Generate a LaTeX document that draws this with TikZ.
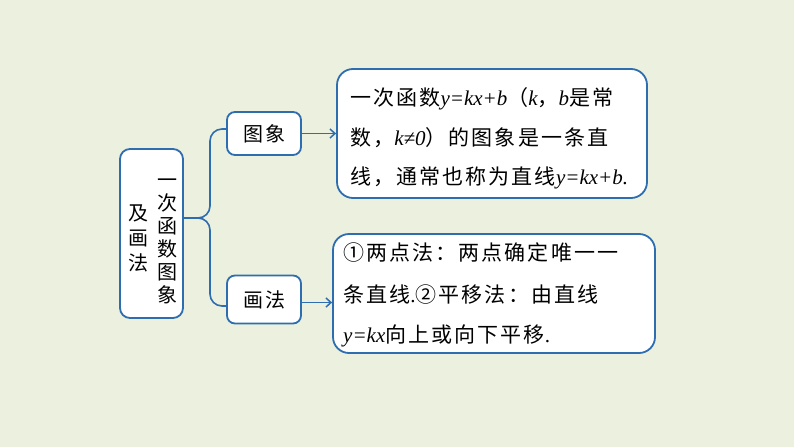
\documentclass[tikz,border=0pt]{standalone}
\usepackage{fontspec}
\setmainfont{Liberation Serif}
\newfontfamily\cjk[LetterSpace=10]{Noto Sans CJK SC}
\usetikzlibrary{arrows.meta}
\definecolor{bg}{HTML}{EBF1DE}
\definecolor{edgeblue}{HTML}{2E6DB0}
\newcommand{\mi}[1]{{\rmfamily\itshape #1}}
\tikzset{
  box/.style={draw=edgeblue, line width=1.8pt, fill=white, inner sep=0pt},
  line/.style={draw=edgeblue, line width=1.6pt},
  arr/.style={line, -{Straight Barb[length=5pt,width=9pt,line width=1.5pt]}},
  txt/.style={inner sep=0pt, anchor=base west, font=\cjk\fontsize{21}{24}\selectfont},
  vtxt/.style={inner sep=0pt, align=center, font=\cjk\fontsize{20}{24}\selectfont}
}
\begin{document}
\begin{tikzpicture}[x=1pt,y=-1pt]
\fill[bg] (0,0) rectangle (794,447);
\useasboundingbox (0,0) rectangle (794,447);

% left main box
\node[box, rounded corners=10pt, minimum width=63pt, minimum height=169pt] (main) at (151.5,233.5) {};
\node[vtxt, font=\cjk\fontsize{20}{23}\selectfont] (col1) at (167,241) {一\\次\\函\\数\\图\\象};
\node[vtxt, font=\cjk\fontsize{20}{25}\selectfont] (col2) at (138,238) {及\\画\\法};

% small boxes
\node[box, rounded corners=8pt, minimum width=74pt, minimum height=43pt, font=\cjk\fontsize{20}{24}\selectfont] (tu) at (264,133.5) {图象};
\node[box, rounded corners=8pt, minimum width=74pt, minimum height=48pt, font=\cjk\fontsize{20}{24}\selectfont] (hf) at (264,299.5) {画法};

% big boxes
\node[box, rounded corners=16pt, minimum width=310pt, minimum height=129pt] (b1) at (492,133.5) {};
\node[box, rounded corners=16pt, minimum width=322pt, minimum height=119pt] (b2) at (494,293.5) {};

% text of box 1
\node[txt] (b1l1) at (350,105) {一次函数\mi{y=kx+b}（\mi{k}，\mi{b}是常};
\node[txt] (b1l2) at (350,145) {数，\mi{k≠0}）的图象是一条直};
\node[txt] (b1l3) at (350,184) {线，通常也称为直线\mi{y=kx+b.}};

% text of box 2
\node[txt] (b2l1) at (343,260) {①两点法：两点确定唯一一};
\node[txt] (b2l2) at (343,302) {条直线{\rmfamily .}②平移法：由直线};
\node[txt] (b2l3) at (343,342) {\mi{y=kx}向上或向下平移{\rmfamily .}};

% brace
\draw[line, rounded corners=12pt] ([yshift=15.5pt]main.east) -- ([yshift=15.5pt]main.east -| 210,0) -- (210,129) -- (tu.west |- 0,129);
\draw[line, rounded corners=12pt] ([yshift=15.5pt]main.east) -- ([yshift=15.5pt]main.east -| 210,0) -- (210,306) -- (hf.west |- 0,306);

% arrows
\draw[arr] (tu.east) -- (tu.east -| b1.west);
\draw[arr] ([yshift=-3pt]hf.east) -- ([yshift=-3pt]hf.east -| b2.west);
\end{tikzpicture}
\end{document}
